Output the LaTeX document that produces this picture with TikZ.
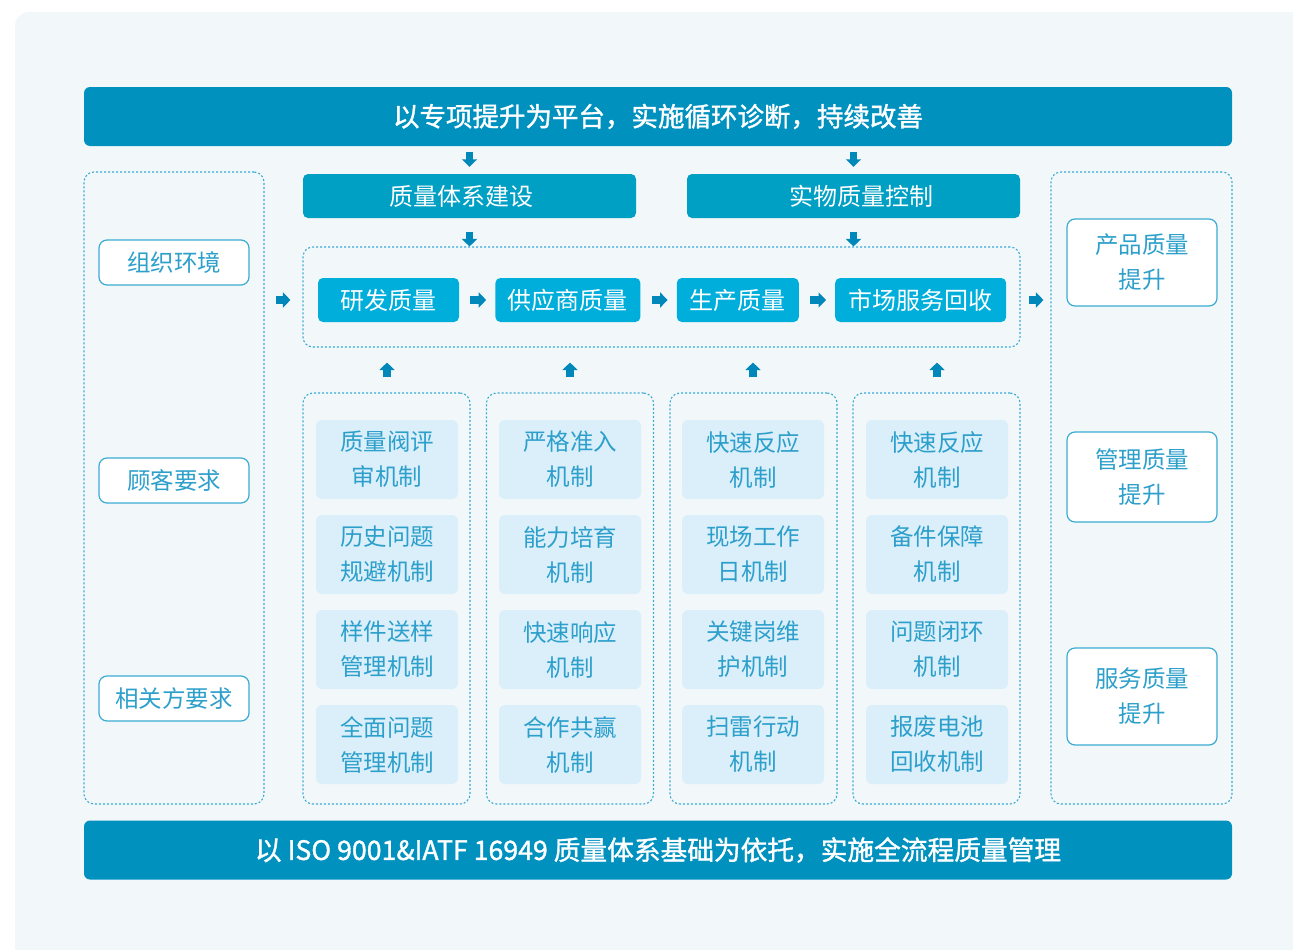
\documentclass[tikz,border=0pt]{standalone}
\usepackage{fontspec}
\setmainfont{Noto Sans CJK SC}
\newfontfamily\barfont[FakeBold=1.3]{Noto Sans CJK SC}
\usetikzlibrary{arrows.meta,positioning}

\definecolor{bgcol}{HTML}{F2F8F9}
\definecolor{barblue}{HTML}{0091BF}
\definecolor{headblue}{HTML}{009FC4}
\definecolor{procblue}{HTML}{00AEDB}
\definecolor{dashblue}{HTML}{3AAAD2}
\definecolor{mechfill}{HTML}{DBEFFB}
\definecolor{mechtext}{HTML}{2C9FCB}
\definecolor{sideline}{HTML}{3AABD3}
\definecolor{arrowblue}{HTML}{0088BA}

\begin{document}
\begin{tikzpicture}[x=1pt, y=-1pt,
	font=\fontsize{24}{35}\selectfont,
	bar/.style   = {fill=barblue, rounded corners=6pt, minimum width=1148pt, minimum height=59pt, text=white, font=\fontsize{26.5}{30}\selectfont\barfont},
	head/.style  = {fill=headblue, rounded corners=5pt, minimum width=333pt, minimum height=44pt, text=white},
	proc/.style  = {fill=procblue, rounded corners=5pt, minimum height=44pt, inner sep=0pt, text=white},
	frame/.style = {draw=dashblue, line width=1.1pt, dash pattern=on 2pt off 2pt, rounded corners=10pt},
	mech/.style  = {fill=mechfill, rounded corners=6pt, minimum width=142pt, minimum height=79pt, text=mechtext, align=center, font=\fontsize{23.5}{35}\selectfont},
	side/.style  = {draw=sideline, line width=1.2pt, fill=white, rounded corners=8pt, minimum width=150pt, text=mechtext, align=center, font=\fontsize{23.5}{35}\selectfont},
	blk/.style   = {draw=arrowblue, line width=7.5pt, -{Triangle[width=15pt,length=7.5pt]}},
	]
	
	% page and background panel
	\useasboundingbox (0,0) rectangle (1293,950);
	\clip (0,0) rectangle (1293,950);
	\fill[bgcol, rounded corners=14pt] (15,12) rectangle (1320,975);
	
	% top and bottom bars
	\node[bar] (top) at (658,116.5) {以专项提升为平台，实施循环诊断，持续改善};
	\node[bar, font=\fontsize{26.7}{30}\selectfont\barfont] (bottom) at (658,850) {以 ISO 9001\&IATF 16949 质量体系基础为依托，实施全流程质量管理};
	
	% input and output frames
	\node[frame, minimum width=180pt, minimum height=632pt] (left) at (174,488) {};
	\node[frame, minimum width=181pt, minimum height=632pt] (right) at (1141.5,488) {};
	
	\foreach \t/\y [count=\i] in {组织环境/262.5, 顾客要求/480.5, 相关方要求/698.5}
	\node[side, minimum height=45pt] (in\i) at (174,\y) {\t};
	
	\foreach \t/\y/\h [count=\i] in {{产品质量\\提升}/262.5/87, {管理质量\\提升}/477/90, {服务质量\\提升}/696.5/97}
	\node[side, minimum height=\h pt] (out\i) at (1142,\y) {\t};
	
	% the two headers
	\node[head] (h1) at (469.5,196) {\hspace*{-16pt}质量体系建设};
	\node[head] (h2) at (853.5,196) {\hspace*{16pt}实物质量控制};
	
	% process chain
	\node[frame, minimum width=717pt, minimum height=100pt] (flow) at (661.5,297) {};
	\node[proc, minimum width=141pt] (p1) at (388.5,300) {研发质量};
	\node[proc, minimum width=145pt, right=36pt of p1] (p2) {供应商质量};
	\node[proc, minimum width=122pt, right=36pt of p2] (p3) {生产质量};
	\node[proc, minimum width=171pt, right=36pt of p3] (p4) {市场服务回收};
	
	% mechanism columns
	\foreach \x [count=\i] in {386.5,570,753.5,936.5}
	\node[frame, minimum width=167pt, minimum height=411pt] (c\i) at (\x,598.5) {};
	
	\foreach \t [count=\j] in {{质量阀评\\审机制},{历史问题\\规避机制},{样件送样\\管理机制},{全面问题\\管理机制}}
	\node[mech] (m1\j) at (387,364.5+95*\j) {\t};
	\foreach \t [count=\j] in {{严格准入\\机制},{能力培育\\机制},{快速响应\\机制},{合作共赢\\机制}}
	\node[mech] (m2\j) at (570,364.5+95*\j) {\t};
	\foreach \t [count=\j] in {{快速反应\\机制},{现场工作\\日机制},{关键岗维\\护机制},{扫雷行动\\机制}}
	\node[mech] (m3\j) at (753,364.5+95*\j) {\t};
	\foreach \t [count=\j] in {{快速反应\\机制},{备件保障\\机制},{问题闭环\\机制},{报废电池\\回收机制}}
	\node[mech] (m4\j) at (937,364.5+95*\j) {\t};
	
	% block arrows
	\foreach \h in {h1,h2} {
		\draw[blk, shorten <=6pt, shorten >=7pt] (\h.north |- top.south) -- (\h.north);
		\draw[blk, shorten <=14pt] (\h.south) -- (\h.south |- flow.north);
	}
	\draw[blk, shorten <=11pt, shorten >=12pt] (left.east |- p1) -- (flow.west |- p1);
	\foreach \a/\b in {p1/p2,p2/p3,p3/p4}
	\draw[blk, shorten <=11pt, shorten >=9pt] (\a.east) -- (\b.west);
	\draw[blk, shorten <=8pt, shorten >=7pt] (flow.east |- p4) -- (right.west |- p4);
	\foreach \i in {1,...,4}
	\draw[blk, shorten <=15pt, shorten >=15pt] (m\i1.north |- c\i.north) -- (m\i1.north |- flow.south);
	
\end{tikzpicture}
\end{document}
